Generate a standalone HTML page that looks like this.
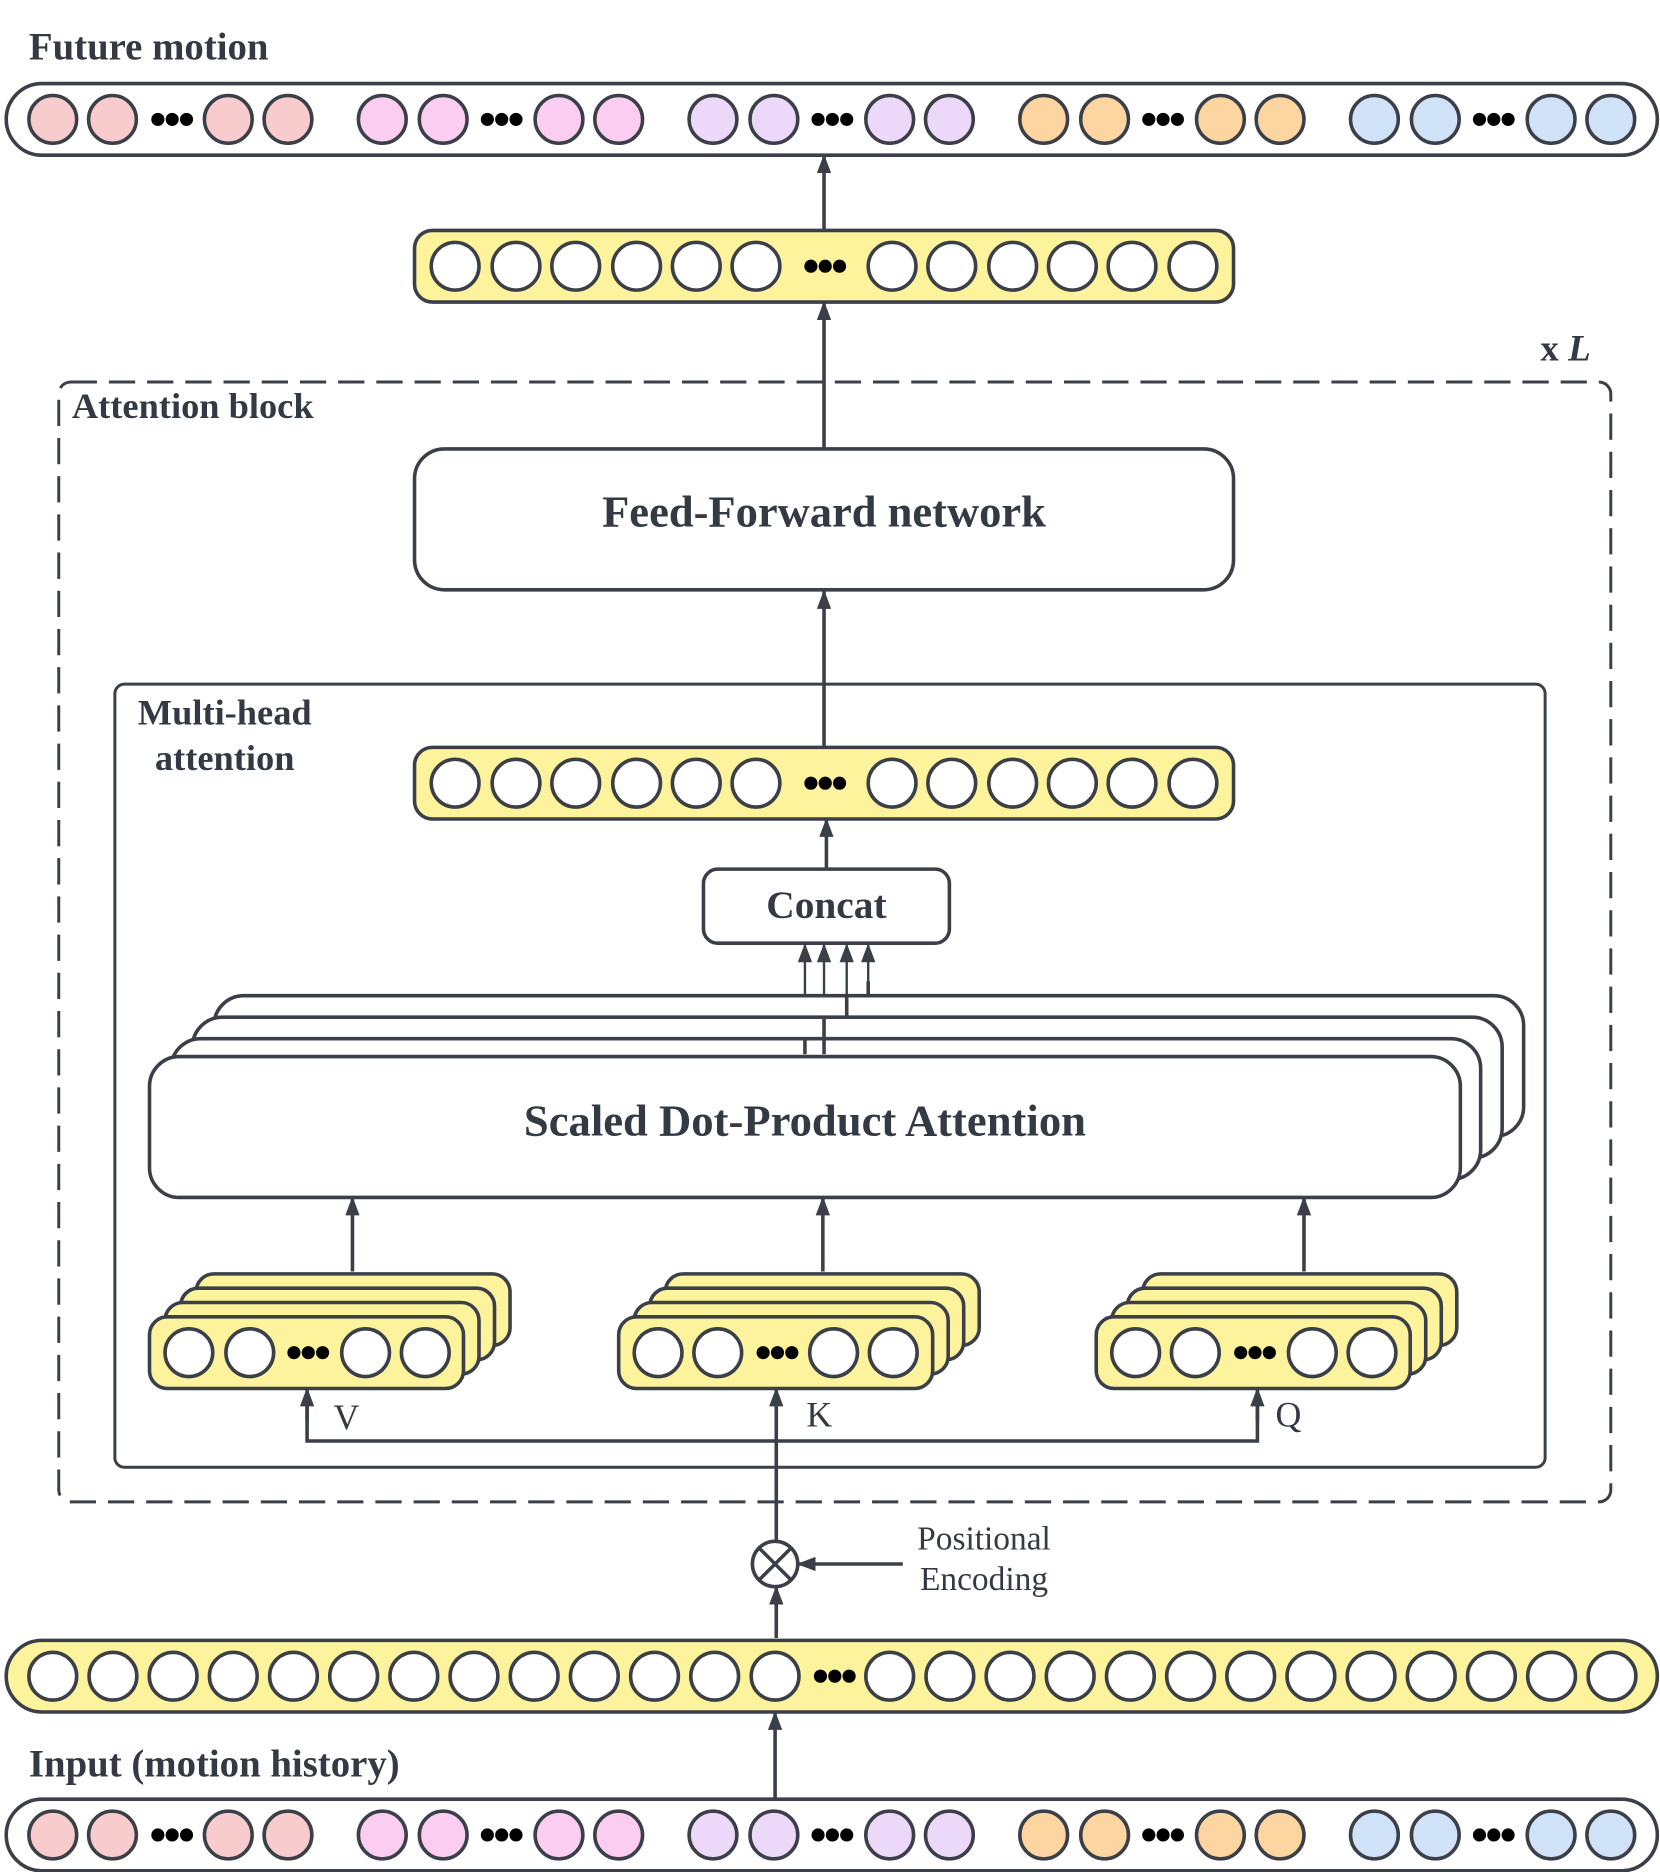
<!DOCTYPE html>
<html><head><meta charset="utf-8"><style>html,body{margin:0;padding:0;background:#fff}svg{display:block}</style></head>
<body>
<svg xmlns="http://www.w3.org/2000/svg" width="1660" height="1872" viewBox="0 0 1390 1568">
<defs>
<marker id="a" markerWidth="16" markerHeight="12" refX="15" refY="6" orient="auto" markerUnits="userSpaceOnUse" viewBox="0 0 16 12"><path d="M0,0 L16,6 L0,12 z" fill="#3b4048"/></marker>
<g id="d"><circle cx="-12" cy="0" r="5.5"/><circle cx="0" cy="0" r="5.5"/><circle cx="12" cy="0" r="5.5"/></g>
</defs>
<style>
text{font-family:"Liberation Serif",serif;fill:#333a44}
.b{font-weight:bold}
.l{stroke:#3b4048;stroke-width:3;fill:none}
.c{stroke:#3b4048;stroke-width:3}
.y{fill:#fdf39c;stroke:#3b4048;stroke-width:3}
</style>
<g id="arrows" class="l">
<line x1="690" y1="192" x2="690" y2="130" marker-end="url(#a)"/>
<line x1="690" y1="375" x2="690" y2="253" marker-end="url(#a)"/>
<line x1="690" y1="625" x2="690" y2="495" marker-end="url(#a)"/>
<line x1="692" y1="727" x2="692" y2="686" marker-end="url(#a)"/>
<line x1="674" y1="883" x2="674" y2="791" marker-end="url(#a)" stroke-width="2"/>
<line x1="690" y1="870" x2="690" y2="791" marker-end="url(#a)" stroke-width="2"/>
<line x1="709" y1="852" x2="709" y2="791" marker-end="url(#a)" stroke-width="2"/>
<line x1="727" y1="834" x2="727" y2="791" marker-end="url(#a)" stroke-width="2"/>
<line x1="295" y1="1065" x2="295" y2="1003" marker-end="url(#a)"/>
<line x1="689" y1="1065" x2="689" y2="1003" marker-end="url(#a)"/>
<line x1="1092" y1="1065" x2="1092" y2="1003" marker-end="url(#a)"/>
<line x1="650" y1="1290" x2="650" y2="1163" marker-end="url(#a)"/>
<polyline points="257,1175 257,1207 1053,1207 1053,1175"/>
<line x1="257" y1="1190" x2="257" y2="1163" marker-end="url(#a)"/>
<line x1="1053" y1="1190" x2="1053" y2="1163" marker-end="url(#a)"/>
<line x1="756" y1="1310" x2="668" y2="1310" marker-end="url(#a)"/>
<line x1="650" y1="1372" x2="650" y2="1329" marker-end="url(#a)"/>
<line x1="649" y1="1506" x2="649" y2="1434" marker-end="url(#a)"/>
</g>
<text x="24" y="50" class="b" font-size="32.5">Future motion</text>
<text x="1290" y="302" class="b" font-size="31">x <tspan font-style="italic">L</tspan></text>
<text x="60" y="350" class="b" font-size="30.5">Attention block</text>
<text x="24" y="1488" class="b" font-size="32.5">Input (motion history)</text>

<rect x="49" y="320" width="1300" height="938" rx="10" fill="none" stroke="#3b4048" stroke-width="2.5" stroke-dasharray="22 10"/>
<rect x="347" y="376" width="686" height="118" rx="25" fill="#fff" class="c"/>
<text x="690" y="441" text-anchor="middle" class="b" font-size="37.3">Feed-Forward network</text>
<rect x="96" y="573" width="1198" height="656" rx="8" fill="none" stroke="#3b4048" stroke-width="2.5"/>
<text x="188" y="607" text-anchor="middle" class="b" font-size="30.5">Multi-head</text>
<text x="188" y="645" text-anchor="middle" class="b" font-size="30.5">attention</text>
<rect x="589" y="728" width="206" height="62" rx="12" fill="#fff" class="c"/>
<text x="692" y="769" text-anchor="middle" class="b" font-size="33">Concat</text>

<g fill="#fff" class="c">
<rect x="179" y="834" width="1097" height="118" rx="25"/>
<rect x="161" y="852" width="1097" height="118" rx="25"/>
<rect x="143" y="870" width="1097" height="118" rx="25"/>
<rect x="125" y="885" width="1098" height="118" rx="25"/>
</g>
<text x="674" y="951" text-anchor="middle" class="b" font-size="37.4">Scaled Dot-Product Attention</text>
<line x1="674" y1="870" x2="674" y2="883" class="l" stroke-width="2"/>
<line x1="690" y1="852" x2="690" y2="883" class="l" stroke-width="2"/>
<line x1="709" y1="834" x2="709" y2="852" class="l" stroke-width="2"/>
<line x1="727" y1="822" x2="727" y2="834" class="l" stroke-width="2"/>

<circle cx="649" cy="1310" r="19" fill="#fff" class="c"/>
<path d="M636,1297 L662,1323 M662,1297 L636,1323" class="l" stroke-width="2.5"/>
<text x="824" y="1298" text-anchor="middle" font-size="28">Positional</text>
<text x="824" y="1332" text-anchor="middle" font-size="28">Encoding</text>
<text x="290" y="1197" text-anchor="middle" font-size="30">V</text>
<text x="686" y="1195" text-anchor="middle" font-size="30">K</text>
<text x="1079" y="1195" text-anchor="middle" font-size="30">Q</text>

<rect x="5" y="70" width="1383" height="60" rx="30" fill="#fff" class="c"/>
<rect x="5" y="1507" width="1383" height="60" rx="30" fill="#fff" class="c"/>
<rect x="347" y="193" width="686" height="60" rx="15" class="y"/>
<rect x="347" y="626" width="686" height="60" rx="15" class="y"/>
<rect x="5" y="1374" width="1383" height="60" rx="30" class="y"/>

<g class="y">
<rect x="164" y="1067" width="263" height="60" rx="15"/><rect x="151" y="1079" width="263" height="60" rx="15"/><rect x="138" y="1091" width="263" height="60" rx="15"/><rect x="125" y="1103" width="263" height="60" rx="15"/>
<rect x="557" y="1067" width="263" height="60" rx="15"/><rect x="544" y="1079" width="263" height="60" rx="15"/><rect x="531" y="1091" width="263" height="60" rx="15"/><rect x="518" y="1103" width="263" height="60" rx="15"/>
<rect x="957" y="1067" width="263" height="60" rx="15"/><rect x="944" y="1079" width="263" height="60" rx="15"/><rect x="931" y="1091" width="263" height="60" rx="15"/><rect x="918" y="1103" width="263" height="60" rx="15"/>
</g>

<g id="circles" class="c">
<g fill="#f8cccc"><circle cx="44" cy="100" r="20"/><circle cx="94" cy="100" r="20"/><circle cx="191" cy="100" r="20"/><circle cx="241" cy="100" r="20"/>
<circle cx="44" cy="1537" r="20"/><circle cx="94" cy="1537" r="20"/><circle cx="191" cy="1537" r="20"/><circle cx="241" cy="1537" r="20"/></g>
<g fill="#fbcdf0"><circle cx="320" cy="100" r="20"/><circle cx="371" cy="100" r="20"/><circle cx="468" cy="100" r="20"/><circle cx="518" cy="100" r="20"/>
<circle cx="320" cy="1537" r="20"/><circle cx="371" cy="1537" r="20"/><circle cx="468" cy="1537" r="20"/><circle cx="518" cy="1537" r="20"/></g>
<g fill="#ecd8f8"><circle cx="597" cy="100" r="20"/><circle cx="648" cy="100" r="20"/><circle cx="745" cy="100" r="20"/><circle cx="795" cy="100" r="20"/>
<circle cx="597" cy="1537" r="20"/><circle cx="648" cy="1537" r="20"/><circle cx="745" cy="1537" r="20"/><circle cx="795" cy="1537" r="20"/></g>
<g fill="#fdd5a0"><circle cx="874" cy="100" r="20"/><circle cx="925" cy="100" r="20"/><circle cx="1022" cy="100" r="20"/><circle cx="1072" cy="100" r="20"/>
<circle cx="874" cy="1537" r="20"/><circle cx="925" cy="1537" r="20"/><circle cx="1022" cy="1537" r="20"/><circle cx="1072" cy="1537" r="20"/></g>
<g fill="#d0e2f8"><circle cx="1151" cy="100" r="20"/><circle cx="1202" cy="100" r="20"/><circle cx="1299" cy="100" r="20"/><circle cx="1349" cy="100" r="20"/>
<circle cx="1151" cy="1537" r="20"/><circle cx="1202" cy="1537" r="20"/><circle cx="1299" cy="1537" r="20"/><circle cx="1349" cy="1537" r="20"/></g>
<g fill="#fff">
<circle cx="381" cy="223" r="20"/><circle cx="432" cy="223" r="20"/><circle cx="482" cy="223" r="20"/><circle cx="533" cy="223" r="20"/><circle cx="583" cy="223" r="20"/><circle cx="633" cy="223" r="20"/>
<circle cx="747" cy="223" r="20"/><circle cx="797" cy="223" r="20"/><circle cx="848" cy="223" r="20"/><circle cx="898" cy="223" r="20"/><circle cx="948" cy="223" r="20"/><circle cx="999" cy="223" r="20"/>
<circle cx="381" cy="656" r="20"/><circle cx="432" cy="656" r="20"/><circle cx="482" cy="656" r="20"/><circle cx="533" cy="656" r="20"/><circle cx="583" cy="656" r="20"/><circle cx="633" cy="656" r="20"/>
<circle cx="747" cy="656" r="20"/><circle cx="797" cy="656" r="20"/><circle cx="848" cy="656" r="20"/><circle cx="898" cy="656" r="20"/><circle cx="948" cy="656" r="20"/><circle cx="999" cy="656" r="20"/>
<circle cx="158" cy="1133" r="20"/><circle cx="209" cy="1133" r="20"/><circle cx="306" cy="1133" r="20"/><circle cx="356" cy="1133" r="20"/>
<circle cx="551" cy="1133" r="20"/><circle cx="601" cy="1133" r="20"/><circle cx="698" cy="1133" r="20"/><circle cx="748" cy="1133" r="20"/>
<circle cx="951" cy="1133" r="20"/><circle cx="1001" cy="1133" r="20"/><circle cx="1099" cy="1133" r="20"/><circle cx="1149" cy="1133" r="20"/>
<circle cx="44" cy="1404" r="20"/><circle cx="94.4" cy="1404" r="20"/><circle cx="144.8" cy="1404" r="20"/><circle cx="195.2" cy="1404" r="20"/><circle cx="245.6" cy="1404" r="20"/><circle cx="296" cy="1404" r="20"/><circle cx="346.4" cy="1404" r="20"/><circle cx="396.8" cy="1404" r="20"/><circle cx="447.2" cy="1404" r="20"/><circle cx="497.6" cy="1404" r="20"/><circle cx="548" cy="1404" r="20"/><circle cx="598.4" cy="1404" r="20"/><circle cx="649" cy="1404" r="20"/>
<circle cx="745" cy="1404" r="20"/><circle cx="795.4" cy="1404" r="20"/><circle cx="845.8" cy="1404" r="20"/><circle cx="896.2" cy="1404" r="20"/><circle cx="946.6" cy="1404" r="20"/><circle cx="997" cy="1404" r="20"/><circle cx="1047.4" cy="1404" r="20"/><circle cx="1097.8" cy="1404" r="20"/><circle cx="1148.2" cy="1404" r="20"/><circle cx="1198.6" cy="1404" r="20"/><circle cx="1249" cy="1404" r="20"/><circle cx="1299.4" cy="1404" r="20"/><circle cx="1350" cy="1404" r="20"/>
</g>
</g>
<g fill="#000">
<use href="#d" x="144" y="100"/><use href="#d" x="420" y="100"/><use href="#d" x="697" y="100"/><use href="#d" x="974" y="100"/><use href="#d" x="1251" y="100"/>
<use href="#d" x="144" y="1537"/><use href="#d" x="420" y="1537"/><use href="#d" x="697" y="1537"/><use href="#d" x="974" y="1537"/><use href="#d" x="1251" y="1537"/>
<use href="#d" x="691" y="223"/><use href="#d" x="691" y="656"/>
<use href="#d" x="258" y="1133"/><use href="#d" x="651" y="1133"/><use href="#d" x="1051" y="1133"/>
<use href="#d" x="699" y="1404"/>
</g>
</svg>
</body></html>
